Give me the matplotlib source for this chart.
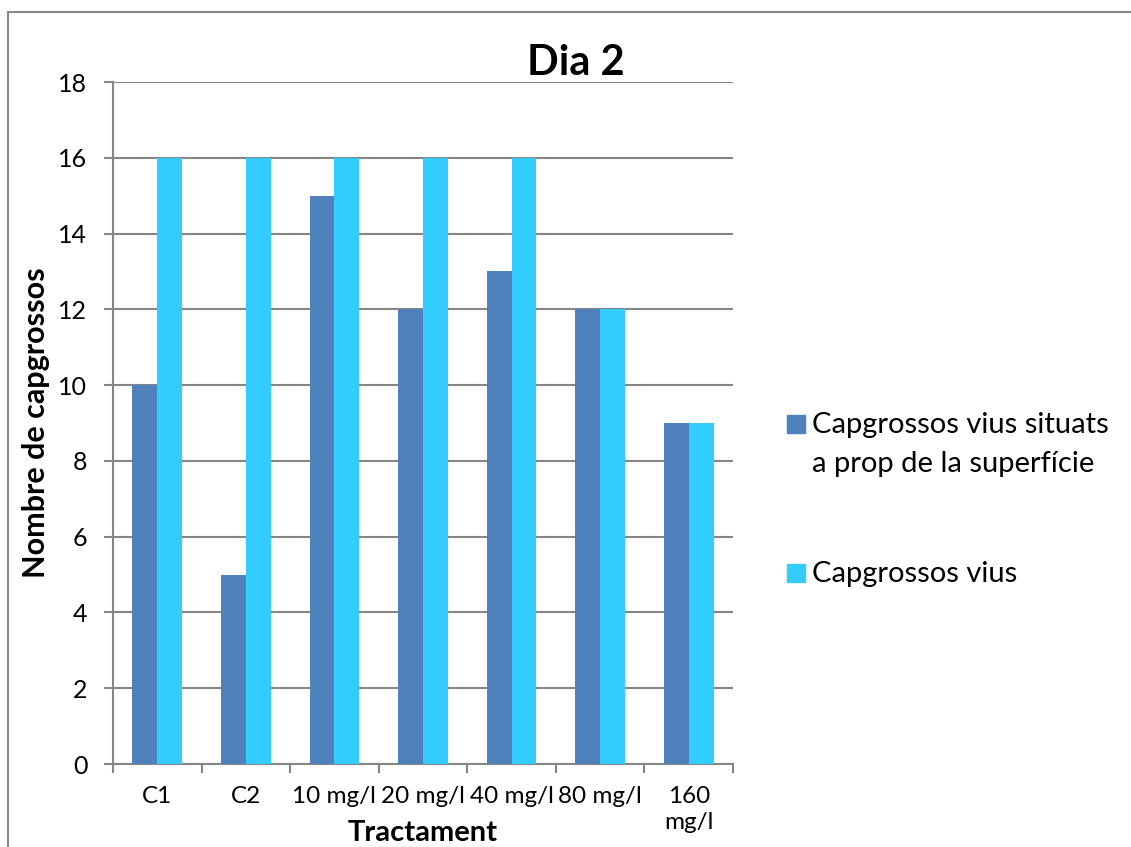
import matplotlib.pyplot as plt
from matplotlib.patches import Rectangle
import numpy as np

plt.rcParams['font.family'] = ['Lato', 'DejaVu Sans']

categories = ['C1', 'C2', '10 mg/l', '20 mg/l', '40 mg/l', '80 mg/l', '160\nmg/l']
near_surface = [10, 5, 15, 12, 13, 12, 9]
alive = [16, 16, 16, 16, 16, 12, 9]
series_names = ['Capgrossos vius situats\na prop de la superfície', 'Capgrossos vius']
colors = ['#4F81BD', '#33CCFF']

W, H = 1131, 847
fig = plt.figure(figsize=(W / 100, H / 100), dpi=100)
ax = fig.add_axes([113 / W, 1 - 764 / H, 620 / W, 682 / H])

grey = '#868686'
x = np.arange(len(categories))
bw = 0.28
ax.bar(x - bw / 2, near_surface, bw, color=colors[0], zorder=3)
ax.bar(x + bw / 2, alive, bw, color=colors[1], zorder=3)

ax.set_xlim(-0.5, len(categories) - 0.5)
ax.set_ylim(0, 18)
ax.set_yticks(range(0, 19, 2))
ax.yaxis.grid(True, color=grey, lw=1.5, zorder=0)

for s in ['top', 'right']:
    ax.spines[s].set_visible(False)
for s in ['left', 'bottom']:
    ax.spines[s].set_color(grey)
    ax.spines[s].set_linewidth(1.5)

ax.tick_params(axis='y', length=6.5, width=1.5, color=grey, pad=12, labelsize=18)
ax.set_xticks(x)
ax.set_xticklabels(categories, fontsize=17.5, linespacing=1.3, va='top')
ax.tick_params(axis='x', length=0, pad=16)
ax.set_xticks(np.arange(-0.5, len(categories)), minor=True)
ax.tick_params(axis='x', which='minor', length=6.5, width=1.5, color=grey)

ax.set_xlabel('Tractament', fontsize=21, fontweight='bold', va='baseline')
ax.xaxis.set_label_coords(0.5, -0.113)
ax.set_ylabel('Nombre de capgrossos', fontsize=22, fontweight='bold', va='center')
ax.yaxis.set_label_coords(-0.124, 0.5)
fig.text(576 / W, 1 - 63 / H, 'Dia 2', fontsize=30, fontweight='bold', ha='center', va='center')

# legend
fig.patches.append(Rectangle((787 / W, 1 - 433 / H), 18 / W, 18 / H, color=colors[0],
                             transform=fig.transFigure))
fig.patches.append(Rectangle((787 / W, 1 - 582 / H), 18 / W, 18 / H, color=colors[1],
                             transform=fig.transFigure))
fig.text(812 / W, 1 - 433 / H, series_names[0].split('\n')[0], fontsize=21, va='baseline')
fig.text(812 / W, 1 - 472 / H, series_names[0].split('\n')[1], fontsize=21, va='baseline')
fig.text(812 / W, 1 - 582 / H, series_names[1], fontsize=21, va='baseline')

# chart border
fig.patches.append(Rectangle((8 / W, -0.1), 1.2, 1 - 12 / H + 0.1, fill=False,
                             edgecolor='#898989', lw=1.5, transform=fig.transFigure))

fig.savefig('out.png', dpi=100)
